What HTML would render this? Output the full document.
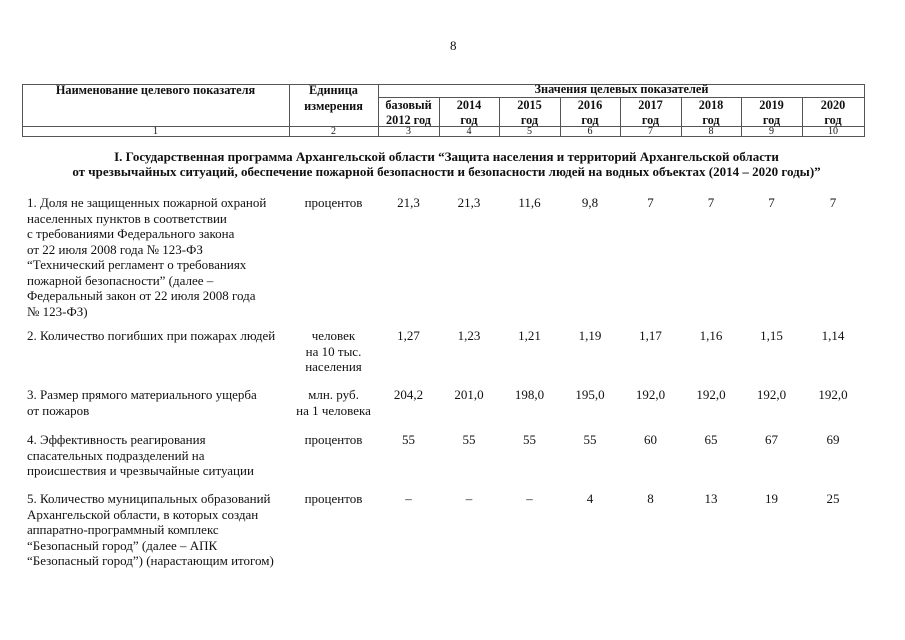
<!DOCTYPE html>
<html><head><meta charset="utf-8"><style>
body{margin:0;background:#fff;}
#p{position:relative;width:905px;height:640px;overflow:hidden;font-family:"Liberation Serif",serif;font-size:13px;color:#111;}
.t{position:absolute;white-space:nowrap;line-height:15.5px;}
.c{text-align:center;}
.b{font-weight:bold;}
.hd{font-size:12.3px;}
.h{position:absolute;height:1px;background:#555;}
.v{position:absolute;width:1px;background:#555;}
.n{font-size:10px;line-height:10px;}
.r{position:absolute;display:flex;white-space:nowrap;line-height:15.5px;left:378px;}
.r span{text-align:center;}
</style></head><body><div id="p">
<div class="t" style="left:450px;top:38px;font-size:13px">8</div>

<div class="h" style="left:22px;top:84px;width:843px"></div>
<div class="h" style="left:378px;top:97px;width:487px"></div>
<div class="h" style="left:22px;top:126px;width:843px"></div>
<div class="h" style="left:22px;top:136px;width:843px"></div>
<div class="v" style="left:22px;top:84px;height:53px"></div>
<div class="v" style="left:289px;top:84px;height:53px"></div>
<div class="v" style="left:378px;top:84px;height:53px"></div>
<div class="v" style="left:439px;top:97px;height:40px"></div>
<div class="v" style="left:499px;top:97px;height:40px"></div>
<div class="v" style="left:560px;top:97px;height:40px"></div>
<div class="v" style="left:620px;top:97px;height:40px"></div>
<div class="v" style="left:681px;top:97px;height:40px"></div>
<div class="v" style="left:741px;top:97px;height:40px"></div>
<div class="v" style="left:802px;top:97px;height:40px"></div>
<div class="v" style="left:864px;top:84px;height:53px"></div>

<div class="t c b hd" style="left:22px;width:267px;top:83px">Наименование целевого показателя</div>
<div class="t c b hd" style="left:289px;width:89px;top:83px">Единица<br>измерения</div>
<div class="t c b hd" style="left:378px;width:487px;top:82px">Значения целевых показателей</div>
<div class="t c b hd" style="left:378px;width:61px;top:98px;line-height:14.5px">базовый<br>2012 год</div>
<div class="t c b hd" style="left:439px;width:60px;top:98px;line-height:14.5px">2014<br>год</div>
<div class="t c b hd" style="left:499px;width:61px;top:98px;line-height:14.5px">2015<br>год</div>
<div class="t c b hd" style="left:560px;width:60px;top:98px;line-height:14.5px">2016<br>год</div>
<div class="t c b hd" style="left:620px;width:61px;top:98px;line-height:14.5px">2017<br>год</div>
<div class="t c b hd" style="left:681px;width:60px;top:98px;line-height:14.5px">2018<br>год</div>
<div class="t c b hd" style="left:741px;width:61px;top:98px;line-height:14.5px">2019<br>год</div>
<div class="t c b hd" style="left:802px;width:62px;top:98px;line-height:14.5px">2020<br>год</div>

<div class="t c n" style="left:22px;width:267px;top:127px">1</div>
<div class="t c n" style="left:289px;width:89px;top:127px">2</div>
<div class="t c n" style="left:378px;width:61px;top:127px">3</div>
<div class="t c n" style="left:439px;width:60px;top:127px">4</div>
<div class="t c n" style="left:499px;width:61px;top:127px">5</div>
<div class="t c n" style="left:560px;width:60px;top:127px">6</div>
<div class="t c n" style="left:620px;width:61px;top:127px">7</div>
<div class="t c n" style="left:681px;width:60px;top:127px">8</div>
<div class="t c n" style="left:741px;width:61px;top:127px">9</div>
<div class="t c n" style="left:802px;width:62px;top:127px">10</div>

<div class="t c b" style="left:-6px;width:905px;top:150px;line-height:14.5px">I. Государственная программа Архангельской области “Защита населения и территорий Архангельской области<br>от чрезвычайных ситуаций, обеспечение пожарной безопасности и безопасности людей на водных объектах (2014 – 2020 годы)”</div>

<div class="t" style="left:27px;top:195px">1. Доля не защищенных пожарной охраной<br>населенных пунктов в соответствии<br>с требованиями Федерального закона<br>от 22 июля 2008 года № 123-ФЗ<br>“Технический регламент о требованиях<br>пожарной безопасности” (далее –<br>Федеральный закон от 22 июля 2008 года<br>№ 123-ФЗ)</div>
<div class="t c" style="left:289px;width:89px;top:195px">процентов</div>

<div class="t" style="left:27px;top:328px">2. Количество погибших при пожарах людей</div>
<div class="t c" style="left:289px;width:89px;top:328px">человек<br>на 10 тыс.<br>населения</div>

<div class="t" style="left:27px;top:387px">3. Размер прямого материального ущерба<br>от пожаров</div>
<div class="t c" style="left:289px;width:89px;top:387px">млн. руб.<br>на 1 человека</div>

<div class="t" style="left:27px;top:432px">4. Эффективность реагирования<br>спасательных подразделений на<br>происшествия и чрезвычайные ситуации</div>
<div class="t c" style="left:289px;width:89px;top:432px">процентов</div>

<div class="t" style="left:27px;top:491px">5. Количество муниципальных образований<br>Архангельской области, в которых создан<br>аппаратно-программный комплекс<br>“Безопасный город” (далее – АПК<br>“Безопасный город”) (нарастающим итогом)</div>
<div class="t c" style="left:289px;width:89px;top:491px">процентов</div>

<div class="r" style="top:195px"><span style="width:61px">21,3</span><span style="width:60px">21,3</span><span style="width:61px">11,6</span><span style="width:60px">9,8</span><span style="width:61px">7</span><span style="width:60px">7</span><span style="width:61px">7</span><span style="width:62px">7</span></div>
<div class="r" style="top:328px"><span style="width:61px">1,27</span><span style="width:60px">1,23</span><span style="width:61px">1,21</span><span style="width:60px">1,19</span><span style="width:61px">1,17</span><span style="width:60px">1,16</span><span style="width:61px">1,15</span><span style="width:62px">1,14</span></div>
<div class="r" style="top:387px"><span style="width:61px">204,2</span><span style="width:60px">201,0</span><span style="width:61px">198,0</span><span style="width:60px">195,0</span><span style="width:61px">192,0</span><span style="width:60px">192,0</span><span style="width:61px">192,0</span><span style="width:62px">192,0</span></div>
<div class="r" style="top:432px"><span style="width:61px">55</span><span style="width:60px">55</span><span style="width:61px">55</span><span style="width:60px">55</span><span style="width:61px">60</span><span style="width:60px">65</span><span style="width:61px">67</span><span style="width:62px">69</span></div>
<div class="r" style="top:491px"><span style="width:61px">–</span><span style="width:60px">–</span><span style="width:61px">–</span><span style="width:60px">4</span><span style="width:61px">8</span><span style="width:60px">13</span><span style="width:61px">19</span><span style="width:62px">25</span></div>
</div></body></html>
